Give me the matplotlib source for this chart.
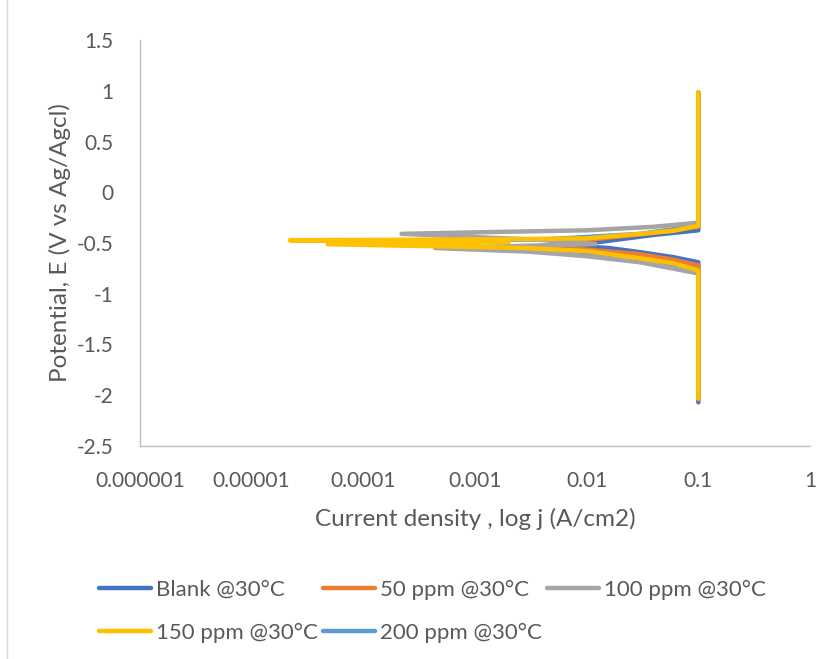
import matplotlib
matplotlib.use("Agg")
import matplotlib.pyplot as plt
from matplotlib.lines import Line2D

plt.rcParams['font.family'] = ['Lato', 'DejaVu Sans']

# Polarization curves: current density (A/cm2) and potential (V vs Ag/AgCl)
blank_j = [0.1, 0.1, 0.06, 0.03, 0.016, 0.006, 0.013, 0.04, 0.1, 0.1]
blank_E = [-2.07, -0.69, -0.64, -0.59, -0.55, -0.52, -0.49, -0.42, -0.375, 0.98]

ppm50_j = [0.1, 0.1, 0.06, 0.03, 0.01, 0.004, 0.01, 0.04, 0.1, 0.1]
ppm50_E = [-2.04, -0.72, -0.665, -0.61, -0.565, -0.525, -0.47, -0.40, -0.34, 0.98]

ppm100_j = [0.1, 0.1, 0.03, 0.01, 0.003, 4.4e-4, 0.012, 0.004, 2.2e-4, 0.001, 0.01, 0.04, 0.1, 0.1]
ppm100_E = [-2.03, -0.80, -0.69, -0.63, -0.585, -0.55, -0.51, -0.47, -0.41, -0.395, -0.375, -0.34, -0.30, 0.985]

ppm150_j = [0.1, 0.1, 0.06, 0.03, 0.01, 0.003, 4.8e-5, 0.002, 2.2e-5, 0.001, 0.01, 0.03, 0.06, 0.1, 0.1]
ppm150_E = [-2.03, -0.77, -0.70, -0.65, -0.58, -0.55, -0.512, -0.49, -0.473, -0.465, -0.455, -0.41, -0.38, -0.33, 0.985]

ppm200_j = [0.1, 0.1, 0.03, 0.005, 6e-5, 0.005, 0.03, 0.1, 0.1]
ppm200_E = [-2.0, -0.76, -0.645, -0.56, -0.5, -0.46, -0.41, -0.33, 0.97]

labels = ["Blank @30\u00b0C", "50 ppm @30\u00b0C", "100 ppm @30\u00b0C",
          "150 ppm @30\u00b0C", "200 ppm @30\u00b0C"]
colors = ["#4472C4", "#ED7D31", "#A5A5A5", "#FFC000", "#5B9BD5"]
series = [(blank_j, blank_E), (ppm50_j, ppm50_E), (ppm100_j, ppm100_E),
          (ppm150_j, ppm150_E), (ppm200_j, ppm200_E)]
zorders = [3, 4, 5, 6, 2]

x_ticks = [1e-6, 1e-5, 1e-4, 1e-3, 1e-2, 1e-1, 1]
x_ticklabels = ["0.000001", "0.00001", "0.0001", "0.001", "0.01", "0.1", "1"]
y_ticks = [1.5, 1, 0.5, 0, -0.5, -1, -1.5, -2, -2.5]
y_ticklabels = ["1.5", "1", "0.5", "0", "-0.5", "-1", "-1.5", "-2", "-2.5"]

W, H = 836, 659
fig = plt.figure(figsize=(W / 100, H / 100), dpi=100)
ax = fig.add_axes([140 / W, 1 - 446 / H, (810 - 140) / W, (446 - 40) / H])

text_c = "#595959"
handles = []
for (j, E), lab, c, z in zip(series, labels, colors, zorders):
    ln, = ax.plot(j, E, color=c, lw=3.2, solid_capstyle='round',
                  solid_joinstyle='round', zorder=z, label=lab)
    handles.append(ln)

ax.set_xscale('log')
ax.set_xlim(1e-6, 1)
ax.set_ylim(-2.5, 1.5)
ax.set_xticks(x_ticks)
ax.set_xticklabels(x_ticklabels)
ax.minorticks_off()
ax.set_yticks(y_ticks)
ax.set_yticklabels(y_ticklabels)
ax.tick_params(length=0, labelsize=15, labelcolor=text_c)
ax.tick_params(axis='y', pad=19)
ax.tick_params(axis='x', pad=18)

for s in ['top', 'right']:
    ax.spines[s].set_visible(False)
for s in ['left', 'bottom']:
    ax.spines[s].set_color('#BFBFBF')
    ax.spines[s].set_linewidth(1.0)

ax.set_xlabel("Current density , log j (A/cm2)", fontsize=17.5, color=text_c, labelpad=12)
ax.set_ylabel("Potential, E (V vs Ag/Agcl)", fontsize=17.5, color=text_c, labelpad=4)

# row-wise legend order for a 3-column layout
order = [0, 3, 1, 4, 2]
leg = fig.legend(handles=[handles[i] for i in order], loc='upper left',
                 bbox_to_anchor=(99 / W, 1 - 580 / H), ncol=3, frameon=False,
                 fontsize=16, handlelength=2.35, handletextpad=0.2,
                 columnspacing=0.25, labelspacing=1.0, borderpad=0, borderaxespad=0)
for t in leg.get_texts():
    t.set_color(text_c)

# chart frame edge
fig.add_artist(Line2D([7 / W, 7 / W], [0, 1], transform=fig.transFigure,
                      color='#D9D9D9', lw=1))

fig.savefig("out.png", dpi=100)
